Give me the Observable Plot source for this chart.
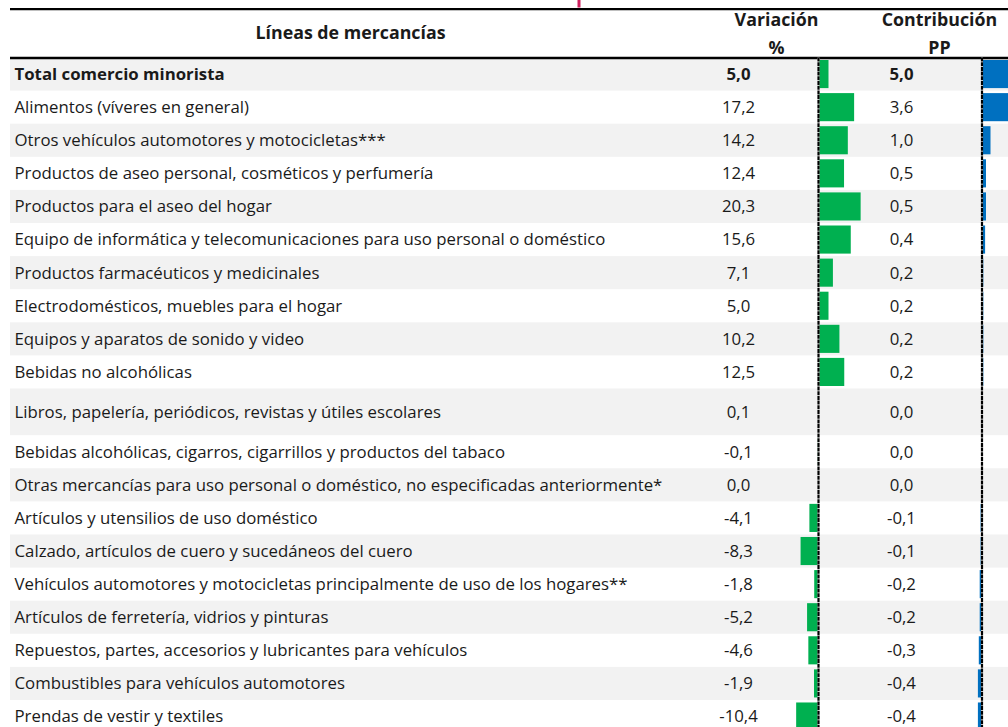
<!DOCTYPE html>
<html><head><meta charset="utf-8">
<script src="https://cdn.jsdelivr.net/npm/d3@7"></script>
<script src="https://cdn.jsdelivr.net/npm/@observablehq/plot@0.6"></script>
<style>
html,body{margin:0;padding:0;background:#fff;overflow:hidden;}
#chart{position:relative;width:1008px;height:727px;overflow:hidden;}
</style></head><body><div id="chart"></div>
<script>
// ---------------- data ----------------
const categories = [
  "Total comercio minorista",
  "Alimentos (víveres en general)",
  "Otros vehículos automotores y motocicletas***",
  "Productos de aseo personal, cosméticos y perfumería",
  "Productos para el aseo del hogar",
  "Equipo de informática y telecomunicaciones para uso personal o doméstico",
  "Productos farmacéuticos y medicinales",
  "Electrodomésticos, muebles para el hogar",
  "Equipos y aparatos de sonido y video",
  "Bebidas no alcohólicas",
  "Libros, papelería, periódicos, revistas y útiles escolares",
  "Bebidas alcohólicas, cigarros, cigarrillos y productos del tabaco",
  "Otras mercancías para uso personal o doméstico, no especificadas anteriormente*",
  "Artículos y utensilios de uso doméstico",
  "Calzado, artículos de cuero y sucedáneos del cuero",
  "Vehículos automotores y motocicletas principalmente de uso de los hogares**",
  "Artículos de ferretería, vidrios y pinturas",
  "Repuestos, partes, accesorios y lubricantes para vehículos",
  "Combustibles para vehículos automotores",
  "Prendas de vestir y textiles"
];
const variacion = [5.0, 17.2, 14.2, 12.4, 20.3, 15.6, 7.1, 5.0, 10.2, 12.5, 0.1, -0.1, 0.0, -4.1, -8.3, -1.8, -5.2, -4.6, -1.9, -10.4];
const contribucion = [5.0, 3.6, 1.0, 0.5, 0.5, 0.4, 0.2, 0.2, 0.2, 0.2, 0.0, 0.0, 0.0, -0.1, -0.1, -0.2, -0.2, -0.3, -0.4, -0.4];
const headerLabel = "Líneas de mercancías";
const headerVar = ["Variación", "%"];
const headerContrib = ["Contribución", "PP"];

// ---------------- layout ----------------
const W = 1008, H = 727, TOP = 57.5, ROW = 33.1;
const FONT = "'Open Sans', 'Noto Sans', sans-serif";
const TXT = "#1a1a1a";
const FS = 16.8, HFS = 17.8;
const fmt = d3.formatLocale({decimal: ",", thousands: ".", grouping: [3], currency: ["", ""], minus: "-"}).format(".1f");

let acc = 0;
const rows = categories.map((name, i) => {
  const span = name.startsWith("Libros") ? 1.41 : 1;
  const r = {name, i, v: variacion[i], c: contribucion[i], top: acc, bottom: acc + span, mid: acc + span / 2, bold: i === 0};
  acc += span;
  return r;
});
const boldRows = rows.filter(d => d.bold), plainRows = rows.filter(d => !d.bold);
const yMin = -TOP / ROW, yMax = (H - TOP) / ROW;
const yScale = {type: "linear", domain: [yMin, yMax], range: [0, H], axis: null};
const px = p => (p - TOP) / ROW; // header pixel row -> unit

const chart = document.getElementById("chart");
function place(svg, left) {
  svg.style.position = "absolute";
  svg.style.left = left + "px";
  svg.style.top = "0px";
  svg.style.maxWidth = "none";
  svg.style.overflow = "visible";
  svg.style.background = "transparent";
  chart.appendChild(svg);
}

// base table
const col = {label: 14, varVal: 738, contribVal: 901, hdrLabel: 350, hdrVar: 776, hdrContrib: 939};
const textCols = (data, weight) => [
  Plot.text(data, {x: col.label, y: "mid", text: "name", textAnchor: "start", fontSize: FS, fill: TXT, fontWeight: weight}),
  Plot.text(data, {x: col.varVal, y: "mid", text: d => fmt(d.v), fontSize: FS, fill: TXT, fontWeight: weight}),
  Plot.text(data, {x: col.contribVal, y: "mid", text: d => fmt(d.c), fontSize: FS, fill: TXT, fontWeight: weight})
];
const hdr = (t, x, y) => Plot.text([t], {x, y: px(y), text: d => d, fontWeight: "bold", fontSize: HFS, fill: TXT});
const base = Plot.plot({
  width: W, height: H, margin: 0,
  x: {type: "linear", domain: [0, W], range: [0, W], axis: null},
  y: yScale,
  style: {fontFamily: FONT, background: "transparent"},
  marks: [
    Plot.rect(rows.filter(d => d.i % 2 === 0), {x1: 10, x2: W, y1: "top", y2: "bottom", fill: "#f2f2f2"}),
    Plot.ruleY([px(8.6)], {x1: 10, x2: W, stroke: "#000", strokeWidth: 2.4}),
    Plot.ruleY([0], {x1: 10, x2: W, stroke: "#000", strokeWidth: 2.4}),
    Plot.rect([0], {x1: 577.5, x2: 580.5, y1: yMin, y2: px(7.5), fill: "#d0215f"}),
    hdr(headerLabel, col.hdrLabel, 32.5),
    hdr(headerVar[0], col.hdrVar, 19.5),
    hdr(headerVar[1], col.hdrVar, 48),
    hdr(headerContrib[0], col.hdrContrib, 19.5),
    hdr(headerContrib[1], col.hdrContrib, 48),
    ...textCols(boldRows, "bold"),
    ...textCols(plainRows, "normal")
  ]
});
place(base, 0);

// data-bar columns (value scale: k px per unit, zero at pixel `zero`)
function barColumn(field, color, zero, k, dom) {
  const left = Math.floor(zero + dom[0] * k);
  const off = zero - left;
  const width = Math.ceil(off + dom[1] * k);
  const svg = Plot.plot({
    width, height: H, margin: 0,
    x: {type: "linear", domain: dom, range: [off + dom[0] * k, off + dom[1] * k], axis: null},
    y: yScale,
    style: {background: "transparent"},
    marks: [
      Plot.rect(rows, {x1: () => 0, x2: field, y1: "top", y2: "bottom", insetTop: 2.5, insetBottom: 2.5, fill: color}),
      Plot.ruleX([0], {y1: 0, y2: yMax, stroke: "#fff", strokeWidth: 2}),
      Plot.ruleX([0], {y1: 0, y2: yMax, stroke: "#000", strokeWidth: 2.2, strokeDasharray: "4,0.7"})
    ]
  });
  place(svg, left);
}
barColumn("v", "#00b050", 818, 2.1, [-14, 26]);
barColumn("c", "#0070c0", 981.5, 9, [-1.5, 5.5]);
</script></body></html>
